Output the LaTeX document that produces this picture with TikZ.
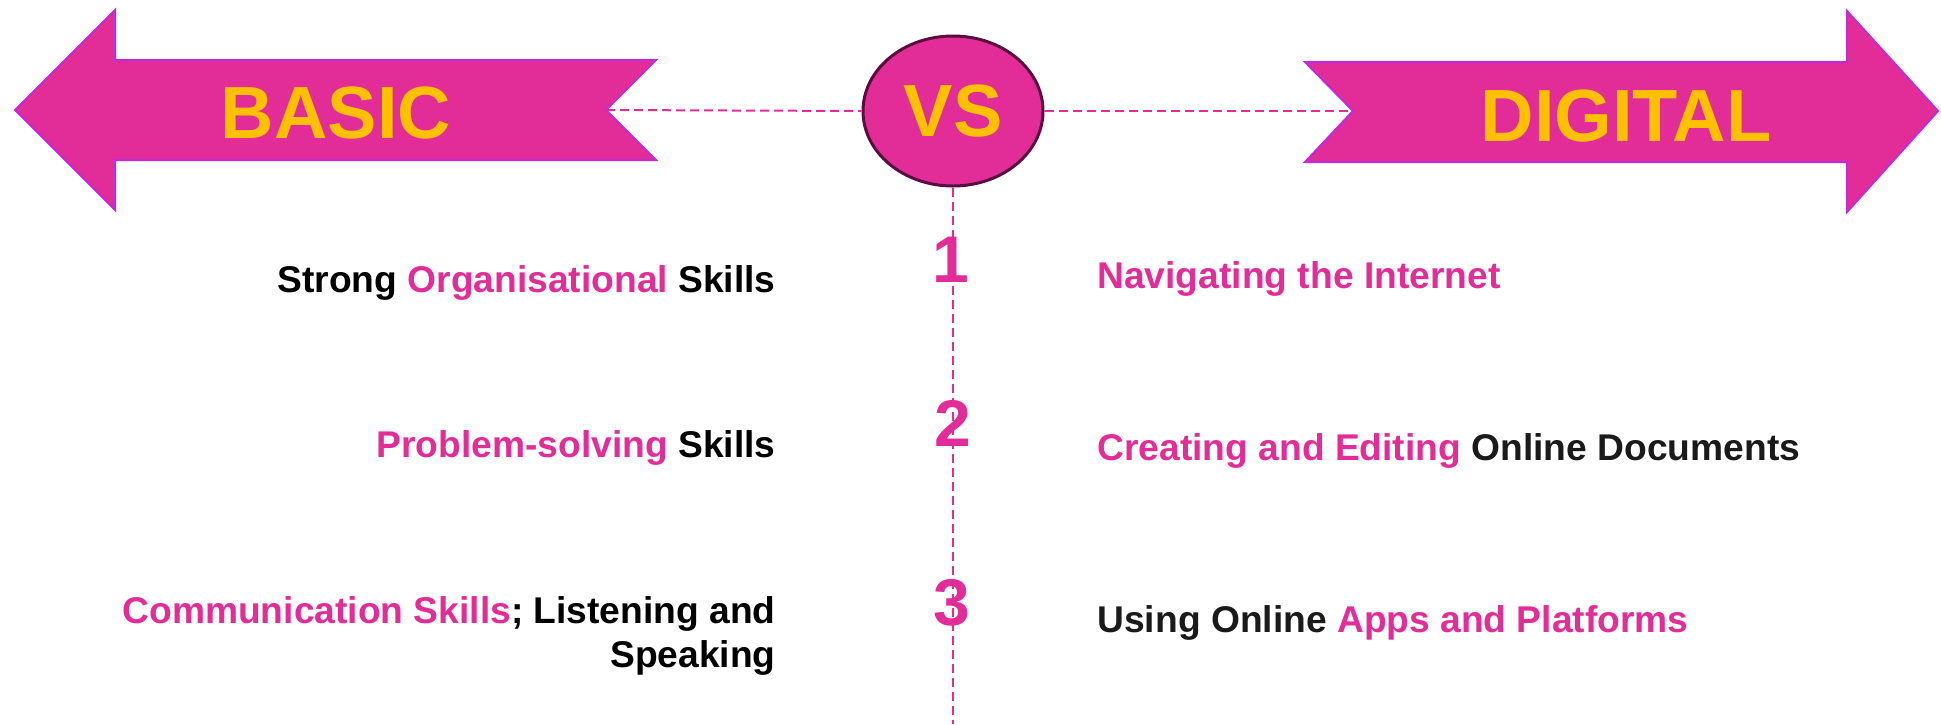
\documentclass[tikz,border=0pt]{standalone}
\usepackage{fontspec}
\setmainfont{Liberation Sans}
\usetikzlibrary{shapes.geometric}
\definecolor{vspink}{HTML}{E22D98}
\definecolor{vsedge}{HTML}{C02ADB}
\definecolor{vsgold}{HTML}{FFC000}
\definecolor{vsring}{HTML}{5A0E3E}
\definecolor{vsdark}{HTML}{1A1A1A}
\tikzstyle{banner} = [fill=vspink, draw=vsedge, line width=1pt]
\tikzstyle{title} = [text=vsgold, font=\bfseries\fontsize{37pt}{40pt}\selectfont, inner sep=0pt]
\tikzstyle{link} = [draw=vspink, line width=1pt, dash pattern=on 4.5pt off 2.5pt]
\tikzstyle{rank} = [text=vspink, font=\bfseries\fontsize{33pt}{36pt}\selectfont, inner sep=0pt, anchor=base]
\tikzstyle{skill} = [font=\bfseries\fontsize{18.6pt}{22pt}\selectfont, inner sep=0pt]
\newcommand{\pk}[1]{\textcolor{vspink}{#1}}

\begin{document}
\begin{tikzpicture}[x=0.5pt,y=-0.5pt]
    \useasboundingbox (0,0) rectangle (1941,724);
    \draw[banner] (15,110) -- (115,10) -- (115,60) -- (656,60) -- (606,110) -- (656,160) -- (115,160) -- (115,210) -- cycle;
    \draw[banner] (1305,62) -- (1847,62) -- (1847,11) -- (1938,111) -- (1847,212) -- (1847,162) -- (1305,162) -- (1353,111) -- cycle;
    \coordinate (basicnotch) at (606,110);
    \coordinate (digitalnotch) at (1353,111);
    \coordinate (axisend) at (953,724);
    \node[title, anchor=base] (basic) at (336,138) {BASIC};
    \node[title, anchor=base] (digital) at (1626,141) {DIGITAL};
    \node[ellipse, fill=vspink, draw=vsring, line width=1.5pt, minimum width=90pt, minimum height=75pt, title] (vs) at (953,111) {VS};
    \draw[link] (basicnotch) -- (vs.west);
    \draw[link] (vs.east) -- (digitalnotch);
    \draw[link] (vs.south) -- (axisend);
    \node[rank] (one) at (951,282) {1};
    \node[rank] (two) at (953,446) {2};
    \node[rank] (three) at (952,625) {3};
    \node[skill, anchor=base east] (organise) at (776,292) {Strong \pk{Organisational} Skills};
    \node[skill, anchor=base east] (solve) at (776,457) {\pk{Problem-solving} Skills};
    \node[skill, anchor=base east, align=right] (talk) at (776,667) {\pk{Communication Skills}; Listening and\\Speaking};
    \node[skill, anchor=base west, text=vspink] (browse) at (1097,288) {Navigating the Internet};
    \node[skill, anchor=base west] (docs) at (1097,460) {\pk{Creating and Editing} \textcolor{vsdark}{Online Documents}};
    \node[skill, anchor=base west, text=vsdark] (apps) at (1097,632) {Using Online \pk{Apps and Platforms}};
\end{tikzpicture}
\end{document}
